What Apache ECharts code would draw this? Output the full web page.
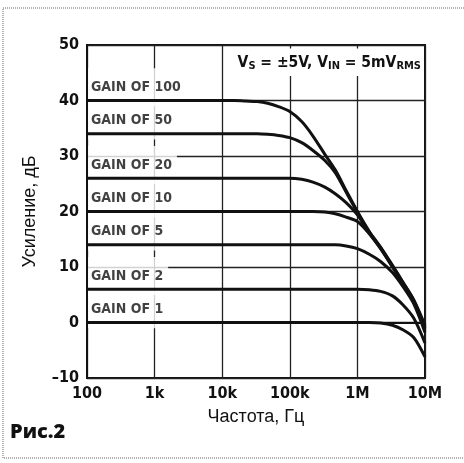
<!DOCTYPE html>
<html>
<head>
<meta charset="utf-8">
<script src="https://cdn.jsdelivr.net/npm/echarts@6/dist/echarts.min.js"></script>
<style>
  html, body { margin: 0; padding: 0; background: #fff; }
  #chart { width: 464px; height: 463px; }
</style>
</head>
<body>
<div id="chart"></div>
<script>
// частоты, Гц
const freqs = [100, 1e3, 1e4, 1.5e4, 2.2e4, 3.3e4, 4.7e4, 6.8e4, 1e5, 1.5e5, 2.2e5, 3.3e5, 4.7e5, 6.8e5, 1e6, 1.5e6, 2.2e6, 3.3e6, 4.7e6, 6.8e6, 1e7];

// усиление, дБ (по картинке)
const gain100 = [40, 40, 40, 40, 39.9, 39.8, 39.5, 38.9, 38, 36.2, 33.6, 30.3, 27.5, 23.8, 20, 16.4, 13.6, 10.3, 7.3, 4.1, -0.5];
const gain50 = [34, 34, 34, 34, 34, 34, 33.9, 33.7, 33.3, 32.4, 31, 29.2, 27, 23.5, 19.9, 16.3, 13.5, 10.2, 7.2, 4, -0.8];
const gain20 = [26, 26, 26, 26, 26, 26, 26, 26, 26, 25.8, 25.3, 24.4, 23.2, 21.6, 19.4, 16.1, 13.4, 10.1, 7.1, 3.9, -1];
const gain10 = [20, 20, 20, 20, 20, 20, 20, 20, 20, 20, 20, 19.9, 19.6, 19, 18.2, 16, 13.3, 10, 7, 3.8, -1.3];
const gain5 = [14, 14, 14, 14, 14, 14, 14, 14, 14, 14, 14, 14, 14, 13.8, 13.3, 12.3, 11, 9, 6.5, 3.4, -1.8];
const gain2 = [6, 6, 6, 6, 6, 6, 6, 6, 6, 6, 6, 6, 6, 6, 6, 5.9, 5.6, 4.8, 3.2, 0.8, -3.7];
const gain1 = [0, 0, 0, 0, 0, 0, 0, 0, 0, 0, 0, 0, 0, 0, 0, 0, -0.1, -0.5, -1.3, -2.7, -6.2];

const curveNames = ['GAIN OF 100', 'GAIN OF 50', 'GAIN OF 20', 'GAIN OF 10', 'GAIN OF 5', 'GAIN OF 2', 'GAIN OF 1'];
const curves = [gain100, gain50, gain20, gain10, gain5, gain2, gain1];
const flatLevels = [40, 34, 26, 20, 14, 6, 0];

const xTickLabels = ['100', '1k', '10k', '100k', '1M', '10M'];
const yTickLabels = ['–10', '0', '10', '20', '30', '40', '50'];

const narrow = '"Liberation Sans Narrow", "Arial Narrow", "DejaVu Sans Condensed", sans-serif';
const plain = '"Liberation Sans", Arial, sans-serif';

const chart = echarts.init(document.getElementById('chart'));

const series = curves.map((vals, i) => ({
  name: curveNames[i],
  type: 'line',
  z: 3,
  data: freqs.map((f, k) => [f, vals[k]]),
  showSymbol: false,
  smooth: 0.3,
  lineStyle: { color: '#111', width: 3 },
  silent: true,
}));

// подписи кривых
series.push({
  type: 'scatter',
  z: 2,
  symbolSize: 0,
  silent: true,
  data: curveNames.map((n, i) => ({ name: n, value: [100, flatLevels[i] + 2.4] })),
  label: {
    show: true,
    position: 'right',
    distance: 1,
    formatter: p => p.name,
    color: '#111',
    fontFamily: narrow,
    fontWeight: 'bold',
    fontSize: 14,
    backgroundColor: '#fff',
    padding: [12, 5, 12, 3],
  },
});

const option = {
  backgroundColor: '#fff',
  animation: false,
  title: {
    text: '{n|V}{s|S}{n| = ±5V, V}{s|IN}{n| = 5mV}{s|RMS}',
    right: 41,
    top: 47,
    backgroundColor: '#fff',
    padding: [6, 2, 4, 6],
    textStyle: {
      rich: {
        n: { fontFamily: narrow, fontWeight: 'bold', fontSize: 15.5, color: '#111' },
        s: { fontFamily: narrow, fontWeight: 'bold', fontSize: 11, color: '#111', padding: [8, 0, 0, 0] },
      },
    },
  },
  graphic: [
    {
      type: 'rect',
      shape: { x: 3, y: 8, width: 480, height: 450 },
      style: { fill: null, stroke: '#999', lineWidth: 1.5, lineDash: [1, 1] },
      silent: true,
    },
    {
      type: 'text',
      left: 10,
      top: 422,
      style: { text: 'Рис.2', font: '800 20px "Open Sans", "DejaVu Sans", sans-serif', fill: '#111' },
    },
  ],
  grid: {
    left: 87,
    right: 39,
    top: 45,
    bottom: 85,
    show: true,
    borderColor: '#111',
    borderWidth: 2,
  },
  xAxis: {
    type: 'log',
    logBase: 10,
    min: 100,
    max: 1e7,
    name: 'Частота, Гц',
    nameLocation: 'middle',
    nameGap: 30,
    nameTextStyle: { fontFamily: plain, fontSize: 18, color: '#111' },
    axisLine: { show: true, lineStyle: { color: '#111', width: 2 } },
    axisTick: { show: false },
    minorTick: { show: false },
    axisLabel: {
      margin: 8,
      color: '#111',
      fontFamily: narrow,
      fontWeight: 'bold',
      fontSize: 16,
      formatter: v => xTickLabels[Math.round(Math.log10(v)) - 2],
    },
    splitLine: { show: true, lineStyle: { color: '#222', width: 1.3 } },
  },
  yAxis: {
    type: 'value',
    min: -10,
    max: 50,
    interval: 10,
    name: 'Усиление, дБ',
    nameLocation: 'middle',
    nameGap: 48,
    nameTextStyle: { fontFamily: plain, fontSize: 18, color: '#111' },
    axisLine: { show: true, lineStyle: { color: '#111', width: 2 } },
    axisTick: { show: false },
    axisLabel: {
      margin: 8,
      color: '#111',
      fontFamily: narrow,
      fontWeight: 'bold',
      fontSize: 16,
      formatter: v => yTickLabels[(v + 10) / 10],
    },
    splitLine: { show: true, lineStyle: { color: '#222', width: 1.3 } },
  },
  series,
};

chart.setOption(option);
</script>
</body>
</html>
